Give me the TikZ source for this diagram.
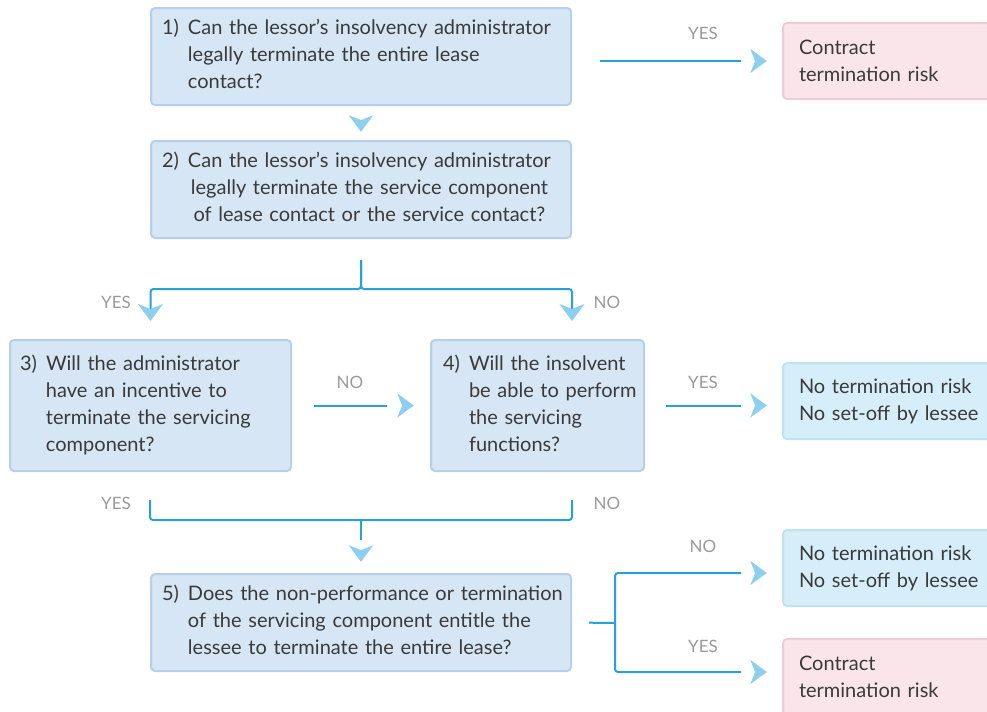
\documentclass[tikz,border=0pt]{standalone}
\usepackage{fontspec}
\setmainfont{Lato}
\usetikzlibrary{arrows.meta}

\definecolor{qfill}{HTML}{D6E6F5}
\definecolor{qline}{HTML}{B6D0EA}
\definecolor{pinkfill}{HTML}{F9E5EA}
\definecolor{pinkline}{HTML}{F1CBD4}
\definecolor{okfill}{HTML}{D6EDFA}
\definecolor{okline}{HTML}{C0E2F5}
\definecolor{linkblue}{HTML}{27A0DC}
\definecolor{tipblue}{HTML}{8DCFEE}
\definecolor{txt}{HTML}{3A3A3A}
\definecolor{lblgray}{HTML}{9A9A9A}

\newcommand{\qtext}[3][l]{\makebox[13pt][l]{#2}\begin{tabular}[t]{@{}#1@{}}#3\end{tabular}}

\tikzset{
  bluetip/.tip={Stealth[length=8.5pt, width=12.5pt, inset=2.5pt, color=tipblue]},
  question/.style={draw=qline, fill=qfill, line width=1pt, rounded corners=2pt,
    text=txt, inner xsep=5.5pt, inner ysep=0pt, align=left},
  result/.style={line width=1pt, rounded corners=2pt, anchor=west, text=txt,
    minimum width=115pt, minimum height=38pt, text width=99pt, inner xsep=8pt, align=left},
  risk/.style={result, draw=pinkline, fill=pinkfill},
  norisk/.style={result, draw=okline, fill=okfill},
  link/.style={draw=linkblue, line width=1pt},
  tiponly/.style={draw opacity=0, line width=0.1pt, -{bluetip}},
  lbl/.style={text=lblgray, font=\fontsize{8.5}{10}\selectfont},
}

\begin{document}
\begin{tikzpicture}[x=0.5pt, y=-0.5pt, font=\fontsize{10}{13.5}\selectfont]
\useasboundingbox (0,0) rectangle (987,712);
\clip (0,0) rectangle (987,712);

\node[question, minimum width=210pt, minimum height=48.5pt, text width=199pt] (q1) at (361,56.5)
  {\qtext{1)}{Can the lessor's insolvency administrator\\legally terminate the entire lease\\contact?}};
\node[question, minimum width=210pt, minimum height=48.5pt, text width=199pt] (q2) at (361,189.5)
  {\qtext[c]{2)}{Can the lessor's insolvency administrator\\legally terminate the service component\\of lease contact or the service contact?}};
\node[question, minimum width=140.5pt, minimum height=65.5pt, text width=130.5pt, inner xsep=5pt] (q3) at (150.5,405.5)
  {\qtext{3)}{Will the administrator\\have an incentive to\\terminate the servicing\\component?}};
\node[question, minimum width=106.5pt, minimum height=65.5pt, text width=94.5pt, inner xsep=6pt] (q4) at (537.5,405.5)
  {\qtext{4)}{Will the insolvent\\be able to perform\\the servicing\\functions?}};
\node[question, minimum width=210pt, minimum height=48.5pt, text width=199pt] (q5) at (361,622.5)
  {\qtext{5)}{Does the non-performance or termination\\of the servicing component entitle the\\lessee to terminate the entire lease?}};

\node[risk] (r1) at (782,61) {Contract\\termination risk};
\node[norisk] (r2) at (782,401) {No termination risk\\No set-off by lessee};
\node[norisk] (r3) at (782,568) {No termination risk\\No set-off by lessee};
\node[risk] (r4) at (782,677) {Contract\\termination risk};

\coordinate (split) at (361,260);
\coordinate (join) at (361,520);
\coordinate (fork) at (615,623);
\coordinate (r3in) at ([yshift=-2.5pt]r3.west);
\coordinate (r4in) at ([yshift=2.5pt]r4.west);

\draw[link, shorten <=14pt, shorten >=20.5pt] (q1.east |- r1.west) -- (r1.west);
\draw[tiponly, shorten >=7.5pt] (q1.east |- r1.west) -- (r1.west);
\draw[tiponly, shorten <=6pt, shorten >=4pt] (q1.south) -- (q2.north);
\draw[link, rounded corners=1.5pt, shorten >=9pt, -{bluetip}] (split) -- ++(0,29) -| (q3.north);
\draw[link, rounded corners=1.5pt, shorten >=9pt, -{bluetip}] (split) -- ++(0,29) -| (q2.east |- q4.north);
\draw[link, shorten <=11pt, shorten >=21.5pt] (q3.east) -- (q4.west);
\draw[tiponly, shorten >=8pt] (q3.east) -- (q4.west);
\draw[link, shorten <=10.5pt, shorten >=20.5pt] (q4.east) -- (q4.east -| r2.west);
\draw[tiponly, shorten >=7.5pt] (q4.east) -- (q4.east -| r2.west);
\draw[link, rounded corners=1.5pt, shorten <=14pt, shorten >=14pt] (q2.west |- q3.south) -- (join -| q2.west) -| (q2.east |- q4.south);
\draw[link, shorten >=16.5pt] (join) -- (q5.north);
\draw[tiponly, shorten >=5.5pt] (join) -- (q5.north);
\draw[link, shorten <=8.5pt] (q5.east) -- (fork);
\draw[link, rounded corners=1.5pt, shorten >=20.5pt] (fork) |- (r3in);
\draw[tiponly, shorten >=7.5pt] (fork |- r3in) -- (r3in);
\draw[link, rounded corners=1.5pt, shorten >=20.5pt] (fork) |- (r4in);
\draw[tiponly, shorten >=7.5pt] (fork |- r4in) -- (r4in);

\foreach \x/\y/\t [count=\i] in {703/33/YES, 116/302/YES, 607/302/NO, 350/382/NO, 703/382/YES,
  116/503/YES, 607/503/NO, 703/546/NO, 703/646/YES}
  \node[lbl] (lab\i) at (\x,\y) {\t};
\end{tikzpicture}
\end{document}
